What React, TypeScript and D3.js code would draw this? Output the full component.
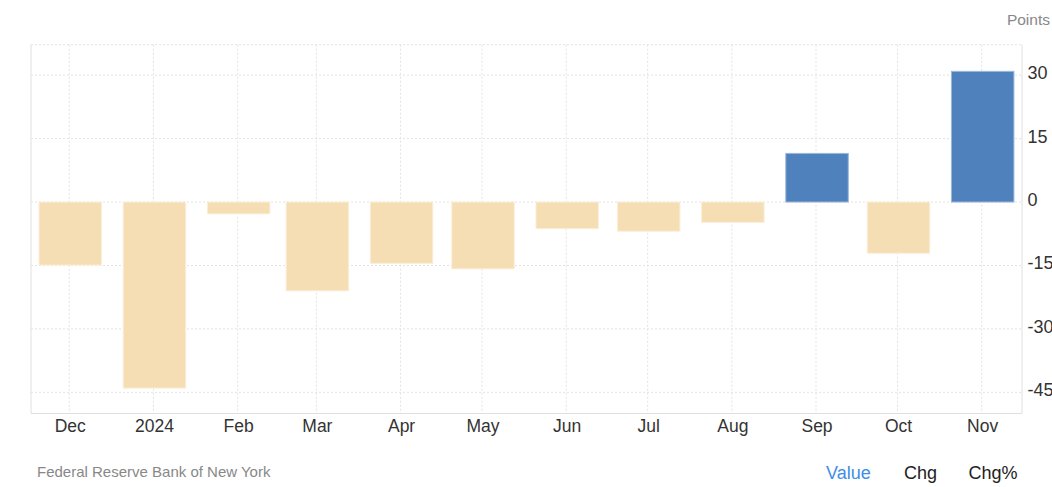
import React from "react";
import * as d3 from "d3";

const months: string[] = ["2023-12-01","2024-01-01","2024-02-01","2024-03-01","2024-04-01","2024-05-01","2024-06-01","2024-07-01","2024-08-01","2024-09-01","2024-10-01","2024-11-01"];
const tickLabels: string[] = ["Dec","2024","Feb","Mar","Apr","May","Jun","Jul","Aug","Sep","Oct","Nov"];
const values: number[] = [-14.9, -44.0, -2.8, -21.0, -14.5, -15.8, -6.3, -6.9, -4.8, 11.5, -12.1, 30.9];
const yTicks: number[] = [30, 15, 0, -15, -30, -45];
const footerButtons: string[] = ["Value", "Chg", "Chg%"];

const W = 1052, H = 487;
const M = { left: 31, right: 1022, top: 44.7, bottom: 413.5 };
const DAY = 86400000;

export default function App() {
  const dates = months.map((s) => new Date(s + "T00:00:00Z"));
  const x = d3
    .scaleUtc()
    .domain([new Date(dates[0].getTime() - 14.1 * DAY), new Date(dates[dates.length - 1].getTime() + 14.85 * DAY)])
    .range([M.left, M.right]);
  const y = d3.scaleLinear().domain([-50, 37.2]).range([M.bottom, M.top]);
  const barW = 62.5;
  const font = "'Liberation Sans', Arial, sans-serif";

  return (
    <svg width={W} height={H} style={{ position: "absolute", left: 0, top: 0, background: "#fff" }} fontFamily={font}>
      {yTicks.map((t) => (
        <line key={"h" + t} x1={M.left} x2={M.right} y1={y(t)} y2={y(t)} stroke="#e3e3e3" strokeDasharray="2,2" />
      ))}
      <line x1={M.left} x2={M.right} y1={M.top} y2={M.top} stroke="#e3e3e3" strokeDasharray="2,2" />
      {dates.map((d, i) => (
        <line key={"v" + i} x1={x(d)} x2={x(d)} y1={M.top} y2={M.bottom} stroke="#e3e3e3" strokeDasharray="2,2" />
      ))}
      {dates.map((d, i) => {
        const v = values[i];
        const y0 = y(0), y1 = y(v);
        return (
          <rect
            key={"b" + i}
            x={x(d) - barW / 2 + 1}
            y={Math.min(y0, y1)}
            width={barW}
            height={Math.abs(y1 - y0)}
            fill={v >= 0 ? "#4f81bd" : "#f5deb3"}
            stroke={v >= 0 ? "#9db8da" : "#fbeeda"}
            strokeWidth={1}
          />
        );
      })}
      <line x1={M.left} x2={M.left} y1={M.top} y2={M.bottom} stroke="#e0e0e0" />
      <line x1={M.right} x2={M.right} y1={M.top} y2={M.bottom} stroke="#e0e0e0" />
      <line x1={M.left} x2={M.right} y1={M.bottom} y2={M.bottom} stroke="#e0e0e0" />
      {yTicks.map((t) => (
        <text key={"yl" + t} x={1027.5} y={y(t) + 4} fontSize={18} fill="#333">
          {t}
        </text>
      ))}
      <text x={1050} y={25} fontSize={15.5} fill="#888" textAnchor="end">Points</text>
      {dates.map((d, i) => (
        <text key={"xl" + i} x={x(d) + 1} y={432} fontSize={17.5} fill="#333" textAnchor="middle">
          {tickLabels[i]}
        </text>
      ))}
      <text x={37} y={477} fontSize={15} fill="#888">Federal Reserve Bank of New York</text>
      {footerButtons.map((b, i) => (
        <text key={b} x={[826, 904, 968.5][i]} y={479} fontSize={18} fill={i === 0 ? "#3e8ee8" : "#222"}>
          {b}
        </text>
      ))}
    </svg>
  );
}
